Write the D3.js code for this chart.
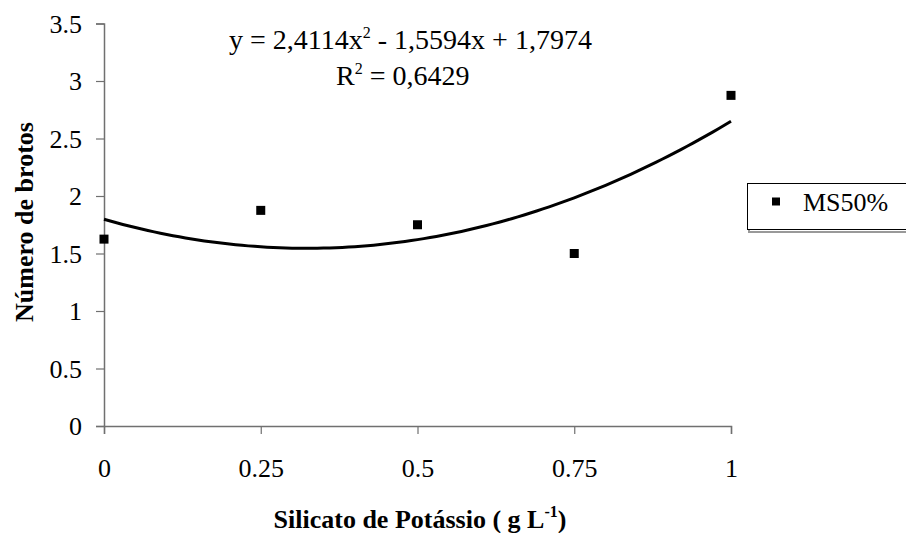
<!DOCTYPE html>
<html>
<head>
<meta charset="utf-8">
<script src="https://cdn.jsdelivr.net/npm/d3@7"></script>
<style>
  html, body { margin: 0; padding: 0; background: #fff; }
  svg { display: block; }
  svg text { font-family: "Liberation Serif", "Times New Roman", "DejaVu Serif", serif; fill: #000; }
</style>
</head>
<body>
<svg id="chart" width="906" height="533"></svg>
<script>
// Observed shoot counts per potassium silicate dose
const doses = [0, 0.25, 0.5, 0.75, 1];
const shoots = [1.625, 1.875, 1.75, 1.5, 2.875];
const xTicks = [0, 0.25, 0.5, 0.75, 1];
const yTicks = [0, 0.5, 1, 1.5, 2, 2.5, 3, 3.5];
const seriesName = "MS50%";
// Quadratic trend coefficients: y = a x^2 + b x + c
const trendCoef = [2.4114, -1.5594, 1.7974];
const rSquared = "0,6429";

const svg = d3.select("#chart");
const FS = "26px";      // tick labels, titles, legend
const EQ = "28px";      // trend equation
const SUP = "16px";

const x = d3.scaleLinear().domain([0, 1]).range([104, 731]);
const y = d3.scaleLinear().domain([0, 3.5]).range([426, 23.5]);

const axisColor = "#707070";

// Y axis
const yAxis = svg.append("g")
  .attr("transform", `translate(${x(0)},0)`)
  .call(d3.axisLeft(y).tickValues(yTicks).tickSize(8).tickPadding(14)
    .tickFormat(d => d3.format("")(d)));
yAxis.attr("font-family", null).attr("font-size", null);
yAxis.select(".domain").attr("stroke", axisColor).attr("stroke-width", 1.5);
yAxis.selectAll(".tick line").attr("stroke", axisColor).attr("stroke-width", 1.2);
yAxis.selectAll(".tick text").style("font-size", FS).attr("dy", "0.34em");

// X axis
const xAxis = svg.append("g")
  .attr("transform", `translate(0,${y(0)})`)
  .call(d3.axisBottom(x).tickValues(xTicks).tickSize(8).tickPadding(0)
    .tickFormat(d => d3.format("")(d)));
xAxis.attr("font-family", null).attr("font-size", null);
xAxis.select(".domain").attr("stroke", axisColor).attr("stroke-width", 1.5);
xAxis.selectAll(".tick line").attr("stroke", axisColor).attr("stroke-width", 1.2);
xAxis.selectAll(".tick text").style("font-size", FS).attr("y", 51).attr("dy", null);

// Trend curve
const trend = d3.range(0, 1.0001, 0.01).map(v => [v, trendCoef[0]*v*v + trendCoef[1]*v + trendCoef[2]]);
svg.append("path")
  .datum(trend)
  .attr("fill", "none")
  .attr("stroke", "#000")
  .attr("stroke-width", 3)
  .attr("d", d3.line().x(d => x(d[0])).y(d => y(d[1])));

// Data markers
const ms = 9;
svg.append("g").selectAll("rect")
  .data(doses.map((d, i) => [d, shoots[i]]))
  .join("rect")
  .attr("x", d => x(d[0]) - ms/2)
  .attr("y", d => y(d[1]) - ms/2)
  .attr("width", ms).attr("height", ms)
  .attr("fill", "#000");

const fmt4 = v => d3.format(".4f")(v).replace(".", ",");

// Equation labels
const eq = svg.append("text")
  .attr("x", 229).attr("y", 49)
  .style("font-size", EQ);
eq.append("tspan").text("y = " + fmt4(trendCoef[0]) + "x");
eq.append("tspan").style("font-size", SUP).attr("dy", -11).text("2");
eq.append("tspan").attr("dy", 11).text(" - " + fmt4(-trendCoef[1]) + "x + " + fmt4(trendCoef[2]));

const r2 = svg.append("text")
  .attr("x", 336).attr("y", 85)
  .style("font-size", EQ);
r2.append("tspan").text("R");
r2.append("tspan").style("font-size", SUP).attr("dy", -11).text("2");
r2.append("tspan").attr("dy", 11).text(" = " + rSquared);

// Axis titles
svg.append("text")
  .attr("transform", `translate(33,222) rotate(-90)`)
  .attr("text-anchor", "middle")
  .style("font-size", FS).style("font-weight", "bold")
  .text("Número de brotos");

const xt = svg.append("text")
  .attr("x", 420).attr("y", 528)
  .attr("text-anchor", "middle")
  .style("font-size", FS).style("font-weight", "bold");
xt.append("tspan").text("Silicato de Potássio ( g L");
xt.append("tspan").style("font-size", SUP).attr("dy", -11).text("-1");
xt.append("tspan").attr("dy", 11).text(")");

// Legend
const lg = svg.append("g");
lg.append("rect")
  .attr("x", 749).attr("y", 185).attr("width", 160).attr("height", 47)
  .attr("fill", "none").attr("stroke", "#999").attr("stroke-width", 2);
lg.append("rect")
  .attr("x", 747.5).attr("y", 183.5).attr("width", 160).attr("height", 46)
  .attr("fill", "#fff").attr("stroke", "#000").attr("stroke-width", 1);
lg.append("rect")
  .attr("x", 776 - ms/2 + 0.5).attr("y", 202 - ms/2).attr("width", ms - 1).attr("height", ms - 1)
  .attr("fill", "#000");
lg.append("text")
  .attr("x", 803).attr("y", 211)
  .style("font-size", FS)
  .text(seriesName);
</script>
</body>
</html>
